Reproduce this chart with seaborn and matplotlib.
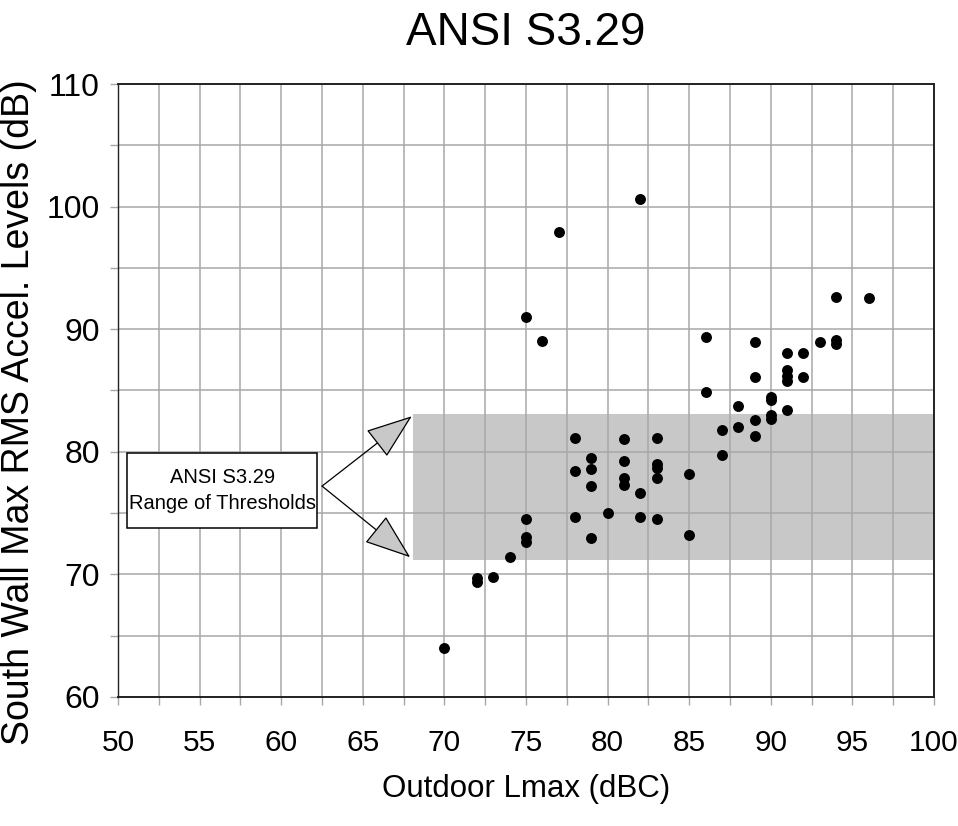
import matplotlib
matplotlib.use("Agg")
import matplotlib.pyplot as plt
import seaborn as sns
import pandas as pd
from matplotlib.ticker import MultipleLocator
from matplotlib.patches import Rectangle

# ---- data ----
lmax = [70, 72, 72, 73, 74, 75, 75, 75, 75, 76, 77,
        78, 78, 78, 79, 79, 79, 79, 80, 81, 81, 81, 81,
        82, 82, 82, 83, 83, 83, 83, 83, 85, 85, 86, 86,
        87, 87, 88, 88, 89, 89, 89, 89, 90, 90, 90, 90,
        91, 91, 91, 91, 91, 92, 92, 93, 94, 94, 94, 96]
accel = [64.0, 69.7, 69.4, 69.8, 71.4, 91.0, 74.5, 73.05, 72.65, 89.0, 97.9,
         81.1, 78.4, 74.7, 79.5, 78.6, 77.2, 73.0, 75.0, 81.05, 79.25, 77.85, 77.3,
         100.6, 76.6, 74.7, 81.1, 79.0, 78.7, 77.85, 74.5, 78.2, 73.2, 89.35, 84.9,
         81.75, 79.75, 83.75, 82.0, 88.95, 86.1, 82.6, 81.3, 84.5, 84.2, 83.0, 82.7,
         88.05, 86.65, 86.2, 85.8, 83.4, 88.05, 86.1, 88.95, 92.6, 89.1, 88.8, 92.55]

band_low, band_high = 71.2, 83.1
band_x_start = 68.1
title = "ANSI S3.29"
xlabel = "Outdoor Lmax (dBC)"
ylabel = "South Wall Max RMS Accel. Levels (dB)"
box_text = "ANSI S3.29\nRange of Thresholds"
xticks = [50, 55, 60, 65, 70, 75, 80, 85, 90, 95, 100]
yticks = [60, 70, 80, 90, 100, 110]

df = pd.DataFrame({"lmax": lmax, "accel": accel})

sns.set_theme(style="white")
fam = ["Liberation Sans", "DejaVu Sans"]
plt.rcParams["font.family"] = fam
plt.rcParams["text.color"] = "black"
plt.rcParams["xtick.color"] = "black"
plt.rcParams["ytick.color"] = "black"
plt.rcParams["axes.labelcolor"] = "black"

fig = plt.figure(figsize=(9.58, 8.26), dpi=100)
ax = fig.add_axes([0.1232, 0.1562, 0.975 - 0.1232, 0.8983 - 0.1562])

xmin, xmax = 50, 100
ax.set_xlim(xmin, xmax)
ax.set_ylim(60, 110)

# gray threshold band
ax.axhspan(band_low, band_high, xmin=(band_x_start - xmin) / (xmax - xmin), xmax=1,
           facecolor="#c8c8c8", edgecolor="none", zorder=0.1)

# grid
ax.set_xticks(xticks)
ax.set_xticklabels([str(v) for v in xticks])
ax.xaxis.set_minor_locator(MultipleLocator(2.5))
ygrid = [60 + 5 * i for i in range(11)]
ax.set_yticks(ygrid)
ax.set_yticklabels([str(v) if v in yticks else "" for v in ygrid])
ax.set_axisbelow(True)
ax.grid(True, which="both", axis="x", color="#a8a8a8", linewidth=1.1)
ax.grid(True, which="major", axis="y", color="#a8a8a8", linewidth=1.1)

sns.scatterplot(data=df, x="lmax", y="accel", ax=ax, color="black", s=62,
                marker="o", edgecolor="black", linewidth=0, zorder=5, legend=False)

for sp in ax.spines.values():
    sp.set_color("#222222")
    sp.set_linewidth(1.4)
    sp.set_visible(True)
ax.spines["left"].set_linewidth(1.0)

ax.tick_params(axis="both", which="both", direction="out", length=6, width=1.0,
               color="#a8a8a8", bottom=True, left=True, labelcolor="black")
ax.tick_params(axis="x", labelsize=21.5, pad=17)
ax.tick_params(axis="y", labelsize=23, pad=7)

ax.set_xlabel(xlabel, fontsize=22.5, labelpad=12)
ax.set_ylabel(ylabel, fontsize=27, va="center")
ax.yaxis.set_label_coords(-0.121, 0.465)
ax.set_title(title, fontsize=33, pad=28)

# annotation box with two arrows
ax.add_patch(Rectangle((50.55, 73.75), 62.2 - 50.55, 79.9 - 73.75,
                       facecolor="white", edgecolor="black", linewidth=1.1, zorder=6))
ax.text((50.55 + 62.2) / 2, 76.85, box_text, ha="center", va="center", fontsize=14.5,
        linespacing=1.5, zorder=7)
start = (62.5, 77.2)
for tip in [(68.0, 82.9), (67.9, 71.4)]:
    ax.annotate("", xy=tip, xytext=start, zorder=6,
                arrowprops=dict(arrowstyle="-|>,head_length=3.0,head_width=1.1",
                                mutation_scale=10, facecolor="#c8c8c8",
                                edgecolor="black", linewidth=0.9,
                                shrinkA=0, shrinkB=0))

fig.savefig("out.png", dpi=100)
